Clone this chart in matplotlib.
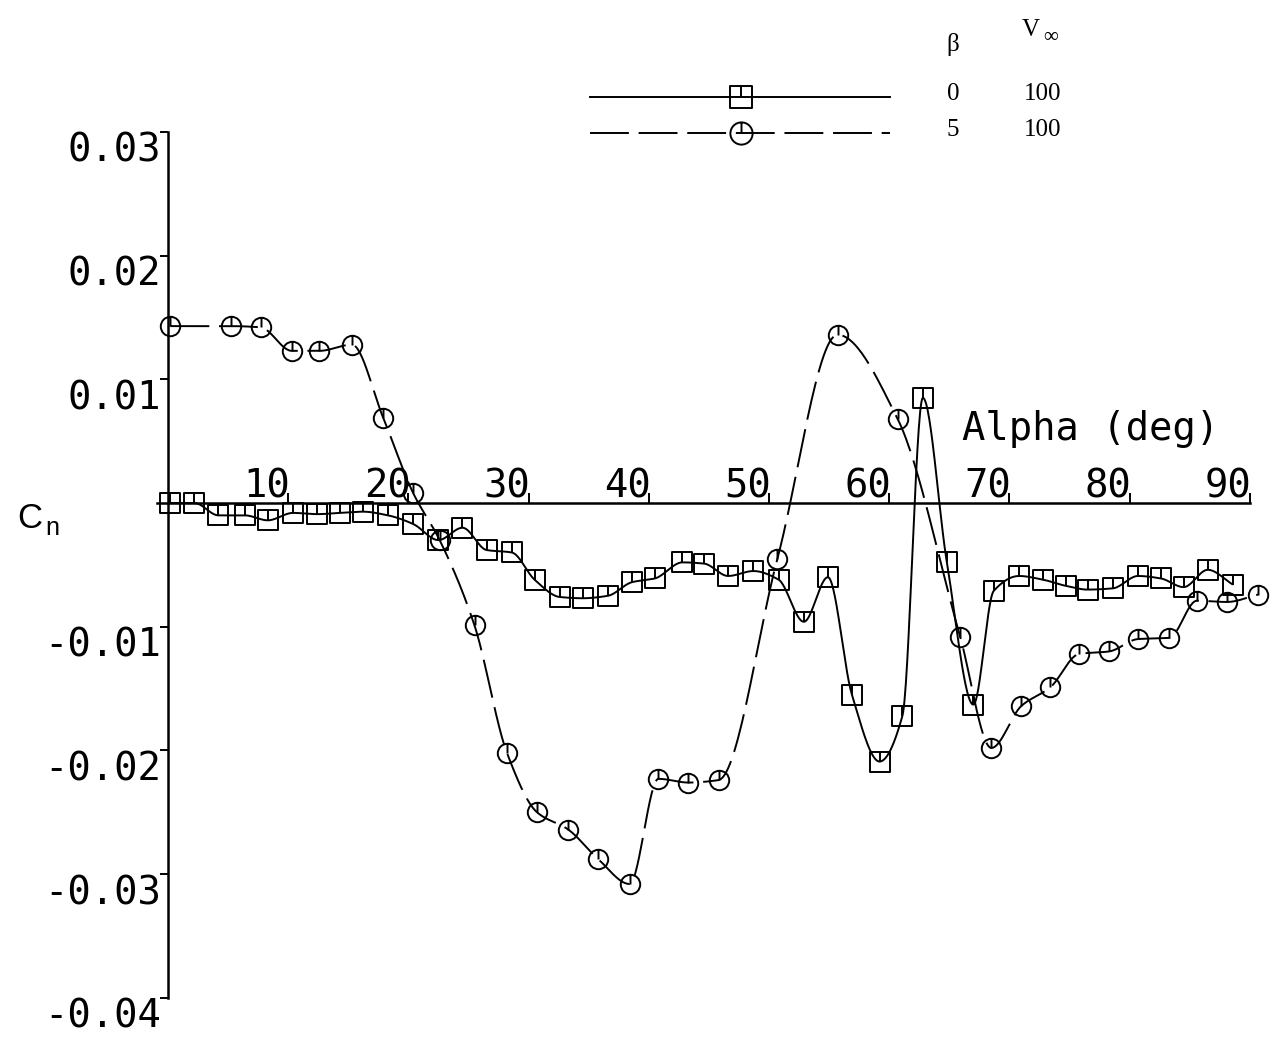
import numpy as np
import matplotlib
matplotlib.use("Agg")
import matplotlib.pyplot as plt
from matplotlib.path import Path
from matplotlib.lines import Line2D

# ---------------- data ----------------
alpha_b0 = [0.2, 2.2, 4.2, 6.4, 8.3, 10.4, 12.4, 14.3, 16.2, 18.3, 20.4, 22.5,
            24.5, 26.5, 28.6, 30.5, 32.6, 34.5, 36.6, 38.6, 40.5, 42.8, 44.6,
            46.6, 48.7, 50.8, 52.9, 54.9, 56.9, 59.2, 61.1, 62.8, 64.8, 67.0,
            68.7, 70.8, 72.8, 74.7, 76.5, 78.6, 80.7, 82.6, 84.5, 86.5, 88.6]
cn_b0 = [0.0, 0.0, -0.0010, -0.0010, -0.0014, -0.0008, -0.0009, -0.0008,
         -0.0007, -0.0010, -0.0017, -0.0030, -0.0020, -0.0038, -0.0040,
         -0.0062, -0.0076, -0.0077, -0.0075, -0.0064, -0.0061, -0.0048,
         -0.0049, -0.0059, -0.0055, -0.0062, -0.0096, -0.0060, -0.0155,
         -0.0209, -0.0172, 0.0085, -0.0048, -0.0163, -0.0071, -0.0059,
         -0.0062, -0.0067, -0.0070, -0.0069, -0.0059, -0.0061, -0.0068,
         -0.0054, -0.0066]

alpha_b5 = [0.2, 5.2, 7.7, 10.3, 12.6, 15.3, 17.9, 20.4, 22.6, 25.5, 28.2,
            30.7, 33.3, 35.8, 38.4, 40.8, 43.3, 45.8, 50.7, 55.7, 60.7, 65.9,
            68.5, 71.0, 73.4, 75.8, 78.3, 80.7, 83.3, 85.6, 88.1, 90.7]
cn_b5 = [0.0143, 0.0143, 0.0142, 0.0123, 0.0123, 0.0128, 0.0069, 0.0008,
         -0.0030, -0.0099, -0.0202, -0.0250, -0.0264, -0.0288, -0.0308,
         -0.0223, -0.0226, -0.0224, -0.0045, 0.0136, 0.0068, -0.0108,
         -0.0198, -0.0164, -0.0149, -0.0122, -0.0120, -0.0110, -0.0109,
         -0.0079, -0.0080, -0.0074]

x_ticks = [10, 20, 30, 40, 50, 60, 70, 80, 90]
x_tick_labels = ["10", "20", "30", "40", "50", "60", "70", "80", "90"]
y_ticks = [0.03, 0.02, 0.01, -0.01, -0.02, -0.03, -0.04]
y_tick_labels = ["0.03", "0.02", "0.01", "-0.01", "-0.02", "-0.03", "-0.04"]

legend_beta = ["0", "5"]
legend_vinf = ["100", "100"]
x_label = "Alpha (deg)"

# ---------------- layout ----------------
W, H = 1273, 1040
X0PX, PXDEG = 168.0, 12.02     # pixel of alpha=0, pixels per degree
Y0PX, PXCN = 503.0, 12370.0    # pixel of Cn=0, pixels per unit Cn

fig = plt.figure(figsize=(W / 100, H / 100), dpi=100)
ax = fig.add_axes([0, 0, 1, 1])
ax.set_xlim(-X0PX / PXDEG, (W - X0PX) / PXDEG)
ax.set_ylim((Y0PX - H) / PXCN, Y0PX / PXCN)
ax.patch.set_alpha(0)

for s in ("top", "right"):
    ax.spines[s].set_visible(False)
ax.spines["left"].set_position(("data", 0))
ax.spines["bottom"].set_position(("data", 0))
ax.spines["left"].set_bounds(-0.04, 0.03)
ax.spines["bottom"].set_bounds(-0.9, 90)
for s in ("left", "bottom"):
    ax.spines[s].set_linewidth(1.8)

ax.set_xticks(x_ticks)
ax.set_yticks(y_ticks)
ax.tick_params(axis="y", direction="out", length=6, width=1.4,
               labelleft=False)
ax.tick_params(axis="x", direction="in", length=7, width=1.4,
               labelbottom=False)

mono = "DejaVu Sans Mono"
FS = 28
for v, t in zip(y_ticks, y_tick_labels):
    ax.annotate(t, (0, v), xytext=(-7, -19), textcoords="offset pixels",
                ha="right", va="center", fontsize=FS, family=mono)
for v, t in zip(x_ticks, x_tick_labels):
    ax.annotate(t, (v, 0), xytext=(2, 6), textcoords="offset pixels",
                ha="right", va="baseline", fontsize=FS, family=mono)

fig.text(962 / W, 1 - 440 / H, x_label, ha="left", va="baseline",
         fontsize=FS, family=mono)
fig.text(17 / W, 1 - 528 / H, "C", ha="left", va="baseline",
         fontsize=25, family="Liberation Sans")
fig.text(45 / W, 1 - 535 / H, "n", ha="left", va="baseline",
         fontsize=18, family="Liberation Sans")


# ---------------- smooth (shape-preserving) curve through the points ----------------
def smooth(x, y, n=30):
    x = np.asarray(x, float)
    y = np.asarray(y, float)
    h = np.diff(x)
    d = np.diff(y) / h
    m = np.zeros_like(y)
    for k in range(1, len(x) - 1):
        if d[k - 1] * d[k] > 0:
            w1 = 2 * h[k] + h[k - 1]
            w2 = h[k] + 2 * h[k - 1]
            m[k] = (w1 + w2) / (w1 / d[k - 1] + w2 / d[k])
    m[0] = d[0]
    m[-1] = d[-1]
    xs, ys = [], []
    t = np.linspace(0, 1, n, endpoint=False)
    h00 = 2 * t**3 - 3 * t**2 + 1
    h10 = t**3 - 2 * t**2 + t
    h01 = -2 * t**3 + 3 * t**2
    h11 = t**3 - t**2
    for i in range(len(x) - 1):
        xs.append(x[i] + t * h[i])
        ys.append(h00 * y[i] + h10 * h[i] * m[i] + h01 * y[i + 1] + h11 * h[i] * m[i + 1])
    xs.append([x[-1]])
    ys.append([y[-1]])
    return np.concatenate(xs), np.concatenate(ys)


# custom markers: open square / circle with a short stroke from top to centre
sq = Path([(-1, -1), (1, -1), (1, 1), (-1, 1), (-1, -1), (0, 1), (0, 0)],
          [Path.MOVETO, Path.LINETO, Path.LINETO, Path.LINETO, Path.CLOSEPOLY,
           Path.MOVETO, Path.LINETO])
circ = Path.make_compound_path(
    Path.unit_circle(),
    Path([(0, 1), (0, 0)], [Path.MOVETO, Path.LINETO]))

LW = 1.4
DASH = (20, 5)

sx, sy = smooth(alpha_b0, cn_b0)
ax.plot(sx, sy, color="black", lw=LW, solid_capstyle="butt")
ax.plot(alpha_b0, cn_b0, ls="none", marker=sq, ms=14.5, mfc="none",
        mec="black", mew=1.4)

cx, cy = smooth(alpha_b5, cn_b5)
ax.plot(cx, cy, color="black", lw=LW, dashes=DASH)
ax.plot(alpha_b5, cn_b5, ls="none", marker=circ, ms=14, mfc="none",
        mec="black", mew=1.4)

# ---------------- legend ----------------
def fx(px):
    return px / W


def fy(py):
    return 1 - py / H


serif = ["Liberation Serif", "DejaVu Serif"]
fig.text(fx(953), fy(44), "\u03b2", ha="center", va="center",
         fontsize=18, family=serif)
fig.text(fx(1031), fy(30), "V", ha="center", va="center",
         fontsize=18, family=serif)
fig.text(fx(1051), fy(38), "\u221e", ha="center", va="center",
         fontsize=15, family=serif)

rows_y = [97, 133]
styles = [dict(ls="-"), dict(dashes=DASH)]
markers = [(sq, 16), (circ, 16)]
for py, b, v, st, (mk, ms) in zip(rows_y, legend_beta, legend_vinf, styles, markers):
    fig.add_artist(Line2D([fx(590), fx(890)], [fy(py), fy(py)], color="black",
                          lw=LW, transform=fig.transFigure, **st))
    fig.add_artist(Line2D([fx(741)], [fy(py)], ls="none", marker=mk, ms=ms,
                          mfc="none", mec="black", mew=1.4,
                          transform=fig.transFigure))
    fig.text(fx(953), fy(py - 3), b, ha="center", va="center",
             fontsize=18, family=serif)
    fig.text(fx(1043), fy(py - 3), v, ha="center", va="center",
             fontsize=18, family=serif)

fig.savefig("out.png", dpi=100, facecolor="white")
